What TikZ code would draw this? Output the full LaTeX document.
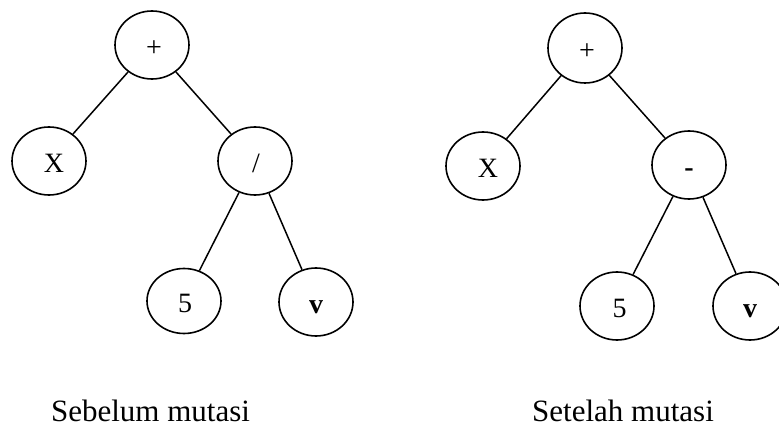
\documentclass[tikz,border=0pt]{standalone}
\usepackage{fontspec}
\setmainfont{Liberation Serif}
\usetikzlibrary{shapes.geometric}

\tikzset{
  treenode/.style={draw, ellipse, line width=1.6pt, minimum width=74pt,
    minimum height=68pt, inner sep=0pt, text height=27pt, text depth=3pt,
    font=\fontsize{28}{30}\selectfont},
  treeedge/.style={line width=1.5pt},
  caption/.style={font=\fontsize{31}{34}\selectfont, anchor=base, inner sep=0pt}
}

\begin{document}
\begin{tikzpicture}[x=1pt, y=-1pt]
  \useasboundingbox (0,0) rectangle (779,427);
  \begin{scope}
    \clip (0,0) rectangle (779,427);

    % tree before the mutation
    \node[treenode] (a-plus)  at (152,45)  {\hspace*{4pt}+};
    \node[treenode] (a-x)     at (49,161)  {\hspace*{10pt}X};
    \node[treenode] (a-div)   at (255,161) {\hspace*{2pt}/};
    \node[treenode, minimum height=65pt] (a-five) at (184,301) {\hspace*{2pt}5};
    \node[treenode] (a-v)     at (316,302) {\textbf{v}};

    \draw[treeedge] (a-plus) -- (a-x);
    \draw[treeedge] (a-plus) -- (a-div);
    \draw[treeedge] (a-div) -- (a-five);
    \draw[treeedge] (a-div) -- (a-v);

    % tree after the mutation
    \node[treenode, minimum height=70pt] (b-plus) at (585,48) {\hspace*{4pt}+};
    \node[treenode] (b-x)     at (483,166) {\hspace*{10pt}X};
    \node[treenode] (b-minus) at (689,165) {\textbf{-}};
    \node[treenode] (b-five)  at (617,306) {\hspace*{5pt}5};
    \node[treenode] (b-v)     at (750,306) {\textbf{v}};

    \draw[treeedge] (b-plus) -- (b-x);
    \draw[treeedge] (b-plus) -- (b-minus);
    \draw[treeedge] (b-minus) -- (b-five);
    \draw[treeedge] (b-minus) -- (b-v);
  \end{scope}

  % captions
  \node[caption] (cap-before) at (150.5,421) {Sebelum mutasi};
  \node[caption] (cap-after)  at (623,421)   {Setelah mutasi};
\end{tikzpicture}
\end{document}
